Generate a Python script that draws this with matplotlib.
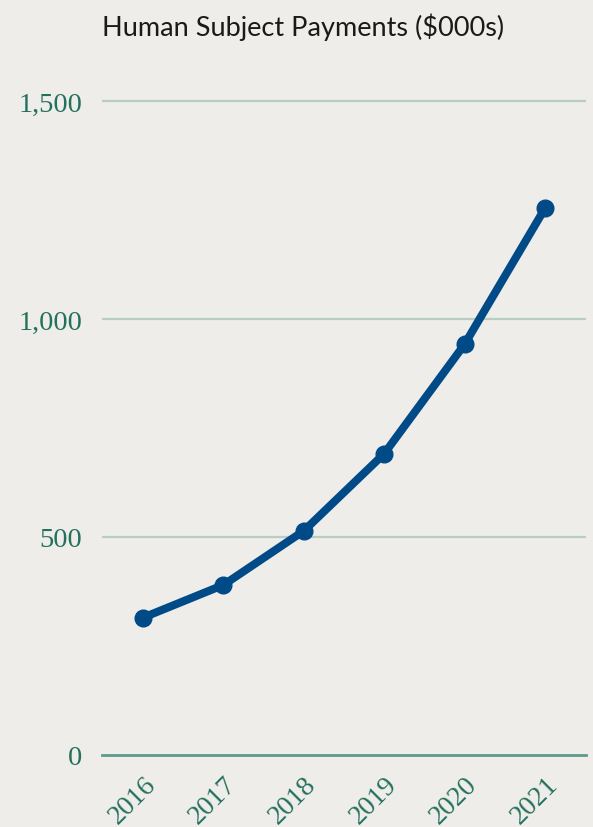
import matplotlib.pyplot as plt

# 人体受试者付款(千美元)
years = [2016, 2017, 2018, 2019, 2020, 2021]
payments = [315, 390, 514, 691, 942, 1254]
y_ticks = [0, 500, 1000, 1500]
y_tick_labels = ['0', '500', '1,000', '1,500']

bg = '#eeede9'
tick_color = '#24705f'
line_color = '#004a87'

fig = plt.figure(figsize=(5.93, 8.28), dpi=100, facecolor=bg)
# y 轴上限留一点空间, 让 1,500 的网格线完整显示
y_max = 1600
ax_h = y_max * 654 / 1500
ax = fig.add_axes([102 / 593, 1 - 756 / 828, 484 / 593, ax_h / 828], facecolor=bg)

ax.plot(years, payments, color=line_color, linewidth=5.8, marker='o',
        markersize=12, solid_capstyle='round', zorder=3, clip_on=False)

ax.set_xlim(2016 - 41 / 80.4, 2021 + 41 / 80.4)
ax.set_ylim(0, y_max)

# 网格线
for v in y_ticks[1:]:
    ax.axhline(v, color='#b8cdc5', linewidth=1.6, zorder=1)
ax.axhline(0, color='#5e9b8c', linewidth=2, zorder=2, clip_on=False)

for s in ax.spines.values():
    s.set_visible(False)

ax.set_yticks(y_ticks)
ax.set_yticklabels(y_tick_labels, family='Liberation Serif', fontsize=20.5, color=tick_color)
ax.set_xticks(years)
ax.set_xticklabels([str(y) for y in years], family='Liberation Serif', fontsize=20,
                   color=tick_color, rotation=45, ha='right', rotation_mode='anchor')
ax.tick_params(axis='both', length=0)
ax.tick_params(axis='y', pad=14)
ax.tick_params(axis='x', pad=12)

fig.text(303 / 593, 1 - 27 / 828, 'Human Subject Payments ($000s)', ha='center', va='center',
         family='Lato', fontsize=19.5, color='#1a1a1a')

plt.savefig('out.png', dpi=100, facecolor=bg)
